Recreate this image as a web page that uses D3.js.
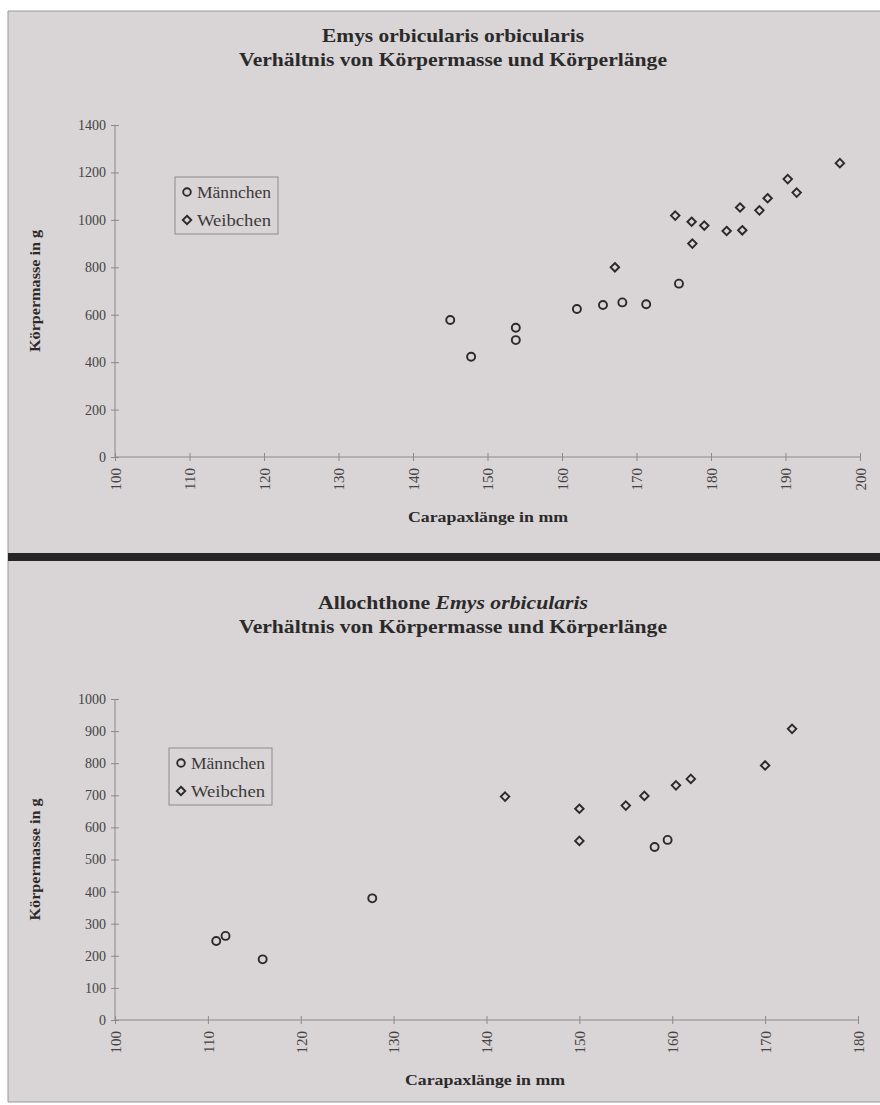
<!DOCTYPE html>
<html>
<head>
<meta charset="utf-8">
<script src="https://cdn.jsdelivr.net/npm/d3@7.9.0/dist/d3.min.js"></script>
<style>
  body { margin: 0; background: #fff; }
  svg { display: block; }
  text { font-family: "Liberation Serif", "Times New Roman", serif; }
</style>
</head>
<body>
<svg id="chart" width="880" height="1105"></svg>
<script>
// Emys orbicularis orbicularis (top)
const maleLen1 = [145.0, 147.8, 153.8, 153.8, 162.0, 165.5, 168.1, 171.3, 175.7];
const maleMass1 = [578, 423, 545, 493, 624, 641, 652, 644, 731];
const femaleLen1 = [167.1, 175.2, 177.4, 177.5, 179.1, 182.1, 183.9, 184.2, 186.5, 187.6, 190.3, 191.5, 197.3];
const femaleMass1 = [800, 1018, 992, 900, 976, 953, 1052, 956, 1040, 1091, 1172, 1115, 1239];
const xTicks1 = [100, 110, 120, 130, 140, 150, 160, 170, 180, 190, 200];
const yTicks1 = [0, 200, 400, 600, 800, 1000, 1200, 1400];

// Allochthone Emys orbicularis (bottom)
const maleLen2 = [110.9, 111.9, 115.9, 127.7, 158.1, 159.5];
const maleMass2 = [246, 262, 189, 379, 539, 561];
const femaleLen2 = [142.0, 150.0, 150.0, 155.0, 157.0, 160.4, 162.0, 170.0, 172.9];
const femaleMass2 = [696, 658, 558, 668, 698, 731, 751, 793, 907];
const xTicks2 = [100, 110, 120, 130, 140, 150, 160, 170, 180];
const yTicks2 = [0, 100, 200, 300, 400, 500, 600, 700, 800, 900, 1000];

const seriesNames = ['Männchen', 'Weibchen'];
const subtitle = 'Verhältnis von Körpermasse und Körperlänge';
const xTitle = 'Carapaxlänge in mm';
const yTitle = 'Körpermasse in g';

const svg = d3.select('#chart');
const bg = '#d9d4d6';
const ink = '#2a2a2a';
const axisCol = '#8a8a8a';

// panels + frame
svg.append('rect').attr('x', 8).attr('y', 11).attr('width', 872).attr('height', 1091).attr('fill', bg);
svg.append('line').attr('x1', 8).attr('x2', 880).attr('y1', 11).attr('y2', 11).attr('stroke', '#9a9a9a');
svg.append('line').attr('x1', 8).attr('x2', 8).attr('y1', 11).attr('y2', 1102).attr('stroke', '#9a9a9a');
svg.append('line').attr('x1', 8).attr('x2', 880).attr('y1', 1102).attr('y2', 1102).attr('stroke', '#9a9a9a');
svg.append('rect').attr('x', 8).attr('y', 553).attr('width', 872).attr('height', 8).attr('fill', '#262626');

function squeeze(sel, len) {
  sel.attr('textLength', len).attr('lengthAdjust', 'spacingAndGlyphs');
}
function condense(sel, f) {
  sel.each(function () {
    const w = this.getComputedTextLength();
    d3.select(this).attr('textLength', w * f).attr('lengthAdjust', 'spacingAndGlyphs');
  });
}

const diamond = d3.symbol().type(d3.symbolDiamond2).size(46);

function drawPanel(cfg) {
  const g = svg.append('g');
  const x = d3.scaleLinear().domain(cfg.xDomain).range(cfg.xRange);
  const y = d3.scaleLinear().domain(cfg.yDomain).range(cfg.yRange);

  // titles
  const t1 = g.append('text').attr('x', 453).attr('y', cfg.titleY)
    .attr('text-anchor', 'middle').attr('font-size', 19).attr('font-weight', 'bold').attr('fill', ink);
  cfg.title.forEach(p => t1.append('tspan').attr('font-style', p.italic ? 'italic' : null).text(p.text));
  squeeze(t1, cfg.titleW);
  const t2 = g.append('text').attr('x', 453).attr('y', cfg.titleY + 24)
    .attr('text-anchor', 'middle').attr('font-size', 19).attr('font-weight', 'bold').attr('fill', ink)
    .text(subtitle);
  squeeze(t2, 428);

  // y axis
  const yAxis = g.append('g').attr('transform', `translate(${cfg.xRange[0]},0)`)
    .call(d3.axisLeft(y).tickValues(cfg.yTicks).tickSize(4).tickPadding(5).tickFormat(d3.format('d')));
  yAxis.select('.domain').attr('stroke', axisCol).attr('d', `M0,${cfg.yRange[0]}V${cfg.yRange[1]}`);
  yAxis.selectAll('.tick line').attr('stroke', axisCol).attr('x1', 4);
  yAxis.selectAll('.tick text').attr('font-size', 14).attr('fill', '#444')
    .attr('font-family', '"Liberation Serif", serif');

  // x axis
  const xAxis = g.append('g').attr('transform', `translate(0,${cfg.yRange[0]})`)
    .call(d3.axisBottom(x).tickValues(cfg.xTicks).tickSize(4).tickFormat(d3.format('d')));
  xAxis.select('.domain').attr('stroke', axisCol).attr('d', `M${cfg.xRange[0]},0H${cfg.xRange[1]}`);
  xAxis.selectAll('.tick line').attr('stroke', axisCol).attr('y1', -4);
  xAxis.selectAll('.tick text').attr('font-size', 15).attr('fill', '#444')
    .attr('font-family', '"Liberation Serif", serif')
    .attr('text-anchor', 'end').attr('dy', '0.35em')
    .attr('transform', 'translate(0,11) rotate(-90)').attr('x', 0).attr('y', 0);

  // axis titles
  const xt = g.append('text').attr('x', (cfg.xTitleX)).attr('y', cfg.xTitleY)
    .attr('text-anchor', 'middle').attr('font-size', 15).attr('font-weight', 'bold').attr('fill', ink).text(xTitle);
  squeeze(xt, 160);
  const yMid = (cfg.yRange[0] + cfg.yRange[1]) / 2;
  const yt = g.append('text').attr('transform', `translate(40,${yMid}) rotate(-90)`)
    .attr('text-anchor', 'middle').attr('font-size', 15).attr('font-weight', 'bold').attr('fill', ink)
    .text(yTitle);
  squeeze(yt, 122);

  // points
  g.selectAll('circle.m').data(d3.zip(cfg.mx, cfg.my)).join('circle')
    .attr('cx', d => x(d[0])).attr('cy', d => y(d[1])).attr('r', 4)
    .attr('fill', 'none').attr('stroke', ink).attr('stroke-width', 1.9);
  g.selectAll('path.f').data(d3.zip(cfg.fx, cfg.fy)).join('path')
    .attr('d', diamond).attr('transform', d => `translate(${x(d[0])},${y(d[1])})`)
    .attr('fill', 'none').attr('stroke', ink).attr('stroke-width', 1.9);

  // legend
  const lg = g.append('g').attr('transform', `translate(${cfg.legend[0]},${cfg.legend[1]})`);
  lg.append('rect').attr('width', 103).attr('height', 57).attr('fill', bg).attr('stroke', '#8c8c8c');
  lg.append('circle').attr('cx', 12).attr('cy', 15).attr('r', 3.8)
    .attr('fill', 'none').attr('stroke', ink).attr('stroke-width', 1.9);
  lg.append('path').attr('d', diamond).attr('transform', 'translate(12,43)')
    .attr('fill', 'none').attr('stroke', ink).attr('stroke-width', 1.9);
  seriesNames.forEach((s, i) => {
    const t = lg.append('text').attr('x', 22).attr('y', 15 + i * 28).attr('dy', '0.35em')
      .attr('font-size', 16).attr('fill', '#3a3a3a').text(s);
    squeeze(t, 74);
  });
}

drawPanel({
  title: [{ text: 'Emys orbicularis orbicularis' }], titleY: 42, titleW: 262,
  xDomain: [100, 200], xRange: [115, 860], yDomain: [0, 1400], yRange: [457, 125],
  xTicks: xTicks1, yTicks: yTicks1, xTitleX: 488, xTitleY: 522,
  mx: maleLen1, my: maleMass1, fx: femaleLen1, fy: femaleMass1, legend: [175, 177]
});
drawPanel({
  title: [{ text: 'Allochthone ' }, { text: 'Emys orbicularis', italic: true }], titleY: 609, titleW: 270,
  xDomain: [100, 180], xRange: [115, 858], yDomain: [0, 1000], yRange: [1020, 699],
  xTicks: xTicks2, yTicks: yTicks2, xTitleX: 485, xTitleY: 1085,
  mx: maleLen2, my: maleMass2, fx: femaleLen2, fy: femaleMass2, legend: [169, 748]
});
</script>
</body>
</html>
